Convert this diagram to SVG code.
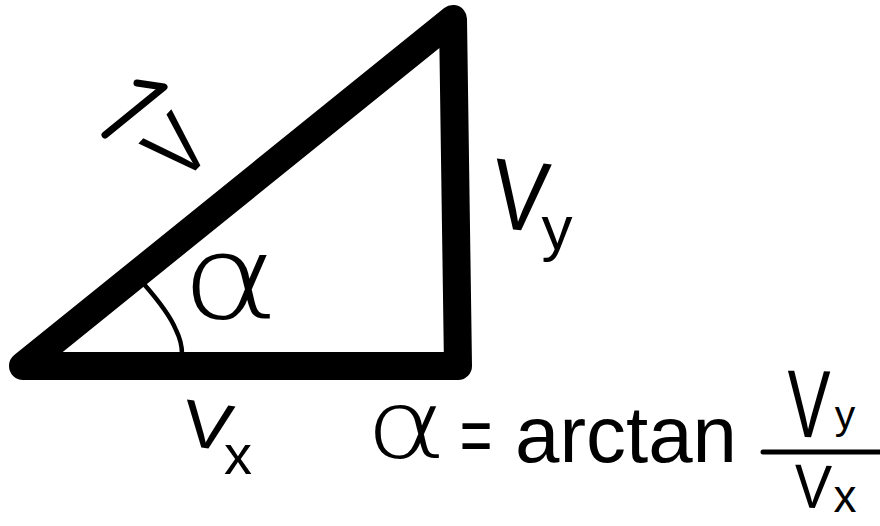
<svg xmlns="http://www.w3.org/2000/svg" width="880" height="526" viewBox="0 0 880 526">
<style>
.ink{fill:none;stroke:#000;stroke-linecap:round;stroke-linejoin:round}
.t{font-family:"Liberation Sans","DejaVu Sans",Arial,sans-serif;fill:#000}
.thin{font-family:"DejaVu Sans","Liberation Sans",sans-serif;font-weight:200;fill:#000}
</style>
<rect width="880" height="526" fill="#fff"/>
<g id="triangle">
<path class="ink" d="M23,366 L453,19 L458,366 Z" stroke-width="28"/>
<path class="ink" d="M143,283 C158,300 170,315 176,330 C181,340 182,347 182,354" stroke-width="4.5"/>
</g>
<g id="label-v">
<path class="ink" d="M105,135 L164,87 L137,83" stroke-width="7"/>
<text class="t" font-size="87" text-anchor="middle" transform="translate(198,168) rotate(-46) scale(0.83,1)">V</text>
</g>
<g id="label-alpha">
<text class="thin" font-size="115" text-anchor="middle" transform="translate(230,318) scale(1.3,1)">α</text>
</g>
<g id="label-vy">
<text class="t" font-size="100" text-anchor="middle" transform="translate(517,230) rotate(6) scale(0.84,1)">V</text>
<text class="t" font-size="62" text-anchor="middle" x="557" y="249">y</text>
</g>
<g id="label-vx">
<text class="t" font-size="66" text-anchor="middle" transform="translate(205,448) rotate(8) scale(1.13,1)">V</text>
<text class="t" font-size="56" text-anchor="middle" x="238" y="474">x</text>
</g>
<g id="formula">
<text class="thin" font-size="95" text-anchor="middle" transform="translate(406,458) scale(1.3,1)">α</text>
<text class="t" font-size="80" text-anchor="middle" transform="translate(476,462) scale(0.7,1)">=</text>
<text class="t" font-size="80" x="515" y="462" textLength="222" lengthAdjust="spacingAndGlyphs">arctan</text>
<line class="ink" x1="763" y1="452" x2="882" y2="452" stroke-width="5"/>
<text class="t" font-size="96" text-anchor="middle" transform="translate(808,437) rotate(1) scale(0.67,1)">V</text>
<text class="t" font-size="41" text-anchor="middle" x="845" y="429">y</text>
<text class="t" font-size="62" text-anchor="middle" transform="translate(812,508) rotate(2) scale(0.9,1)">V</text>
<text class="t" font-size="46" text-anchor="middle" x="845" y="512">x</text>
</g>
</svg>
